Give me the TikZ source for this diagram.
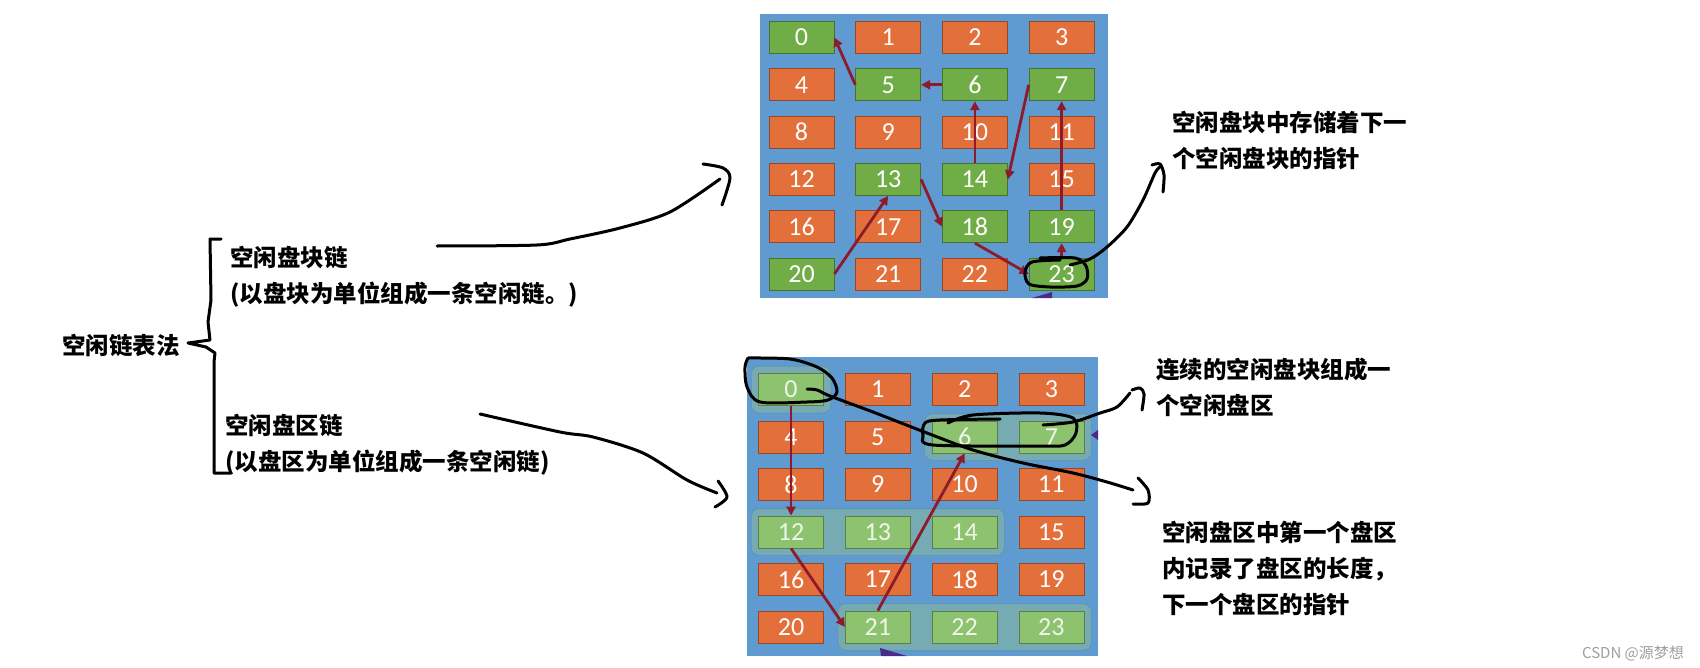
\documentclass[tikz,border=0pt]{standalone}
\usepackage{fontspec}
\setmainfont{Carlito}
\newfontfamily\cjk{Noto Sans CJK SC}
\usetikzlibrary{arrows.meta, fit}
\definecolor{panelblue}{HTML}{5F9AD0}
\definecolor{cellorange}{HTML}{E36F3A}
\definecolor{cellgreen}{HTML}{70AD47}
\definecolor{rgngreen}{HTML}{8DC26E}
\definecolor{rgnfill}{HTML}{76ABB3}
\definecolor{rgnedge}{HTML}{5E96B4}
\definecolor{linkred}{HTML}{8E1B2C}
\definecolor{cutpurple}{HTML}{4B2A8C}
\pgfdeclarelayer{back}
\pgfsetlayers{back,main}

\begin{document}
\begin{tikzpicture}[x=0.5pt, y=-0.5pt,
			cell/.style={draw=#1!65!black, fill=#1, minimum width=32.5pt, minimum height=16pt,
				inner sep=0pt, text=white, font=\fontsize{13}{13}\selectfont},
			busyblk/.style={cell=cellorange},
			freeblk/.style={cell=cellgreen},
			freergn/.style={cell=rgngreen, text=white!88!cellgreen},
			region/.style={draw=rgnedge, fill=rgnfill, rounded corners=4pt, inner sep=3.5pt},
			link/.style={-{Triangle[length=4.5pt, width=4.5pt]}, line width=1.4pt, linkred},
			hand/.style={line width=1.5pt, line cap=round, line join=round, black},
			note/.style={font=\cjk\bfseries\fontsize{11.75}{18}\selectfont, align=left,
				inner sep=0pt, anchor=west}
			]

			\useasboundingbox (0,0) rectangle (1700,668);

			% the two screenshots
			\begin{pgfonlayer}{back}
				\fill[white] (0,0) rectangle (1700,668);
				\fill[panelblue] (760,14) rectangle (1108,298);
				\fill[panelblue] (747,357) rectangle (1098,656);
			\end{pgfonlayer}

			% free block chain
			\foreach \n in {1,2,3,4,8,9,10,11,12,15,16,17,21,22}
				\node[busyblk] (t\n) at ({801.5+86.7*mod(\n,4)}, {37.5+47.3*int(\n/4)}) {\n};
			\foreach \n in {0,5,6,7,13,14,18,19,20,23}
				\node[freeblk] (t\n) at ({801.5+86.7*mod(\n,4)}, {37.5+47.3*int(\n/4)}) {\n};

			% free region chain
			\foreach \n in {1,2,3,4,5,8,9,10,11,15,16,17,18,19,20}
				\node[busyblk] (b\n) at ({791+86.8*mod(\n,4)}, {389.5+47.5*int(\n/4)}) {\n};
			\foreach \n in {0,6,7,12,13,14,21,22,23}
				\node[freergn] (b\n) at ({791+86.8*mod(\n,4)}, {389.5+47.5*int(\n/4)}) {\n};

			\begin{pgfonlayer}{back}
				\foreach \g/\a/\b in {g0/b0/b0, g6/b6/b7, g12/b12/b14, g21/b21/b23}
					\node[region, fit=(\a)(\b)] (\g) {};
			\end{pgfonlayer}

			\foreach \a/\b in {t5.west/t0.east, t6.west/t5.east, t14.north/t6.south, t7.west/t14.east,
				t19.north/t7.south, t23.north/t19.south, t18.south/t23.west, t13.east/t18.west,
				t20.east/t13.south, b0.south/b12.north, b12.south/b21.west, b21.north/b6.south} {
				\draw[link] (\a) -- (\b);
			}

			% cut-off shapes at the screenshot edges
			\fill[cutpurple] (1032,298) -- (1052,292) -- (1052,298) -- cycle;
			\fill[cutpurple] (880,648) -- (907,656) -- (881,656) -- cycle;
			\fill[cutpurple] (1091,435) -- (1098,430) -- (1098,440) -- cycle;

			% texts
			\node[note] (method) at (62,345) {空闲链表法};
			\node[note] (blkchain) at (230,276.5) {空闲盘块链\\(以盘块为单位组成一条空闲链。)};
			\node[note] (rgnchain) at (225,445) {空闲盘区链\\(以盘区为单位组成一条空闲链)};
			\node[note] (blknote) at (1172,140.5) {空闲盘块中存储着下一\\个空闲盘块的指针};
			\node[note] (rgnnote) at (1156,387.5) {连续的空闲盘块组成一\\个空闲盘区};
			\node[note] (lennote) at (1162,569) {空闲盘区中第一个盘区\\内记录了盘区的长度，\\下一个盘区的指针};
			\node[font=\cjk\fontsize{7.5}{8}\selectfont, text=gray!75, inner sep=0pt] (mark) at (1633,653) {CSDN @源梦想};

			% hand-drawn marks
			\draw[hand] (221,239) -- (210,239) -- (211,300) -- (208,322) -- (210,340) -- (188,343)
				-- (206,347) -- (215,353) -- (214,362) -- (214,473) -- (230,473);
			\draw[hand] plot[smooth] coordinates {(437,246) (537,245) (570,239) (620,228) (670,212) (720,179)};
			\draw[hand] plot[smooth] coordinates {(703,164) (723,168) (730,178) (722,205)};
			\draw[hand] plot[smooth] coordinates {(480,414) (560,432) (593,437) (643,453) (687,480) (717,493)};
			\draw[hand] plot[smooth] coordinates {(718,481) (727,497) (715,507)};
			\draw[hand] plot[smooth] coordinates {(1040,258) (1075,258) (1086,266) (1087,279) (1077,286)
				(1050,287) (1029,284) (1025,272) (1032,262) (1060,260)};
			\draw[hand] plot[smooth] coordinates {(1070,265) (1090,259) (1107,247) (1127,227) (1143,200)
				(1155,173) (1160,167)};
			\draw[hand] plot[smooth] coordinates {(1152,165) (1160,164) (1164,175) (1163,192)};
			\draw[hand] plot[smooth] coordinates {(748,358) (790,359) (817,367) (832,378) (837,392) (828,400)
				(807,402) (760,402) (747,387) (745,367) (748,358)};
			\draw[hand] plot[smooth] coordinates {(807,389) (817,390) (830,396) (873,412) (927,433) (973,450)
				(1023,463) (1073,473) (1107,482) (1133,490)};
			\draw[hand] plot[smooth] coordinates {(1138,478) (1148,490) (1148,503) (1133,504)};
			\draw[hand] plot[smooth] coordinates {(948,423) (973,415) (1040,413) (1073,418) (1076,433)
				(1065,445) (1040,446) (933,445) (923,435) (925,423) (940,420) (1000,419)};
			\draw[hand] plot[smooth] coordinates {(1043,425) (1073,422) (1100,413) (1117,407) (1130,393)};
			\draw[hand] plot[smooth] coordinates {(1132,390) (1140,388) (1144,394) (1142,410)};

		\end{tikzpicture}
\end{document}
